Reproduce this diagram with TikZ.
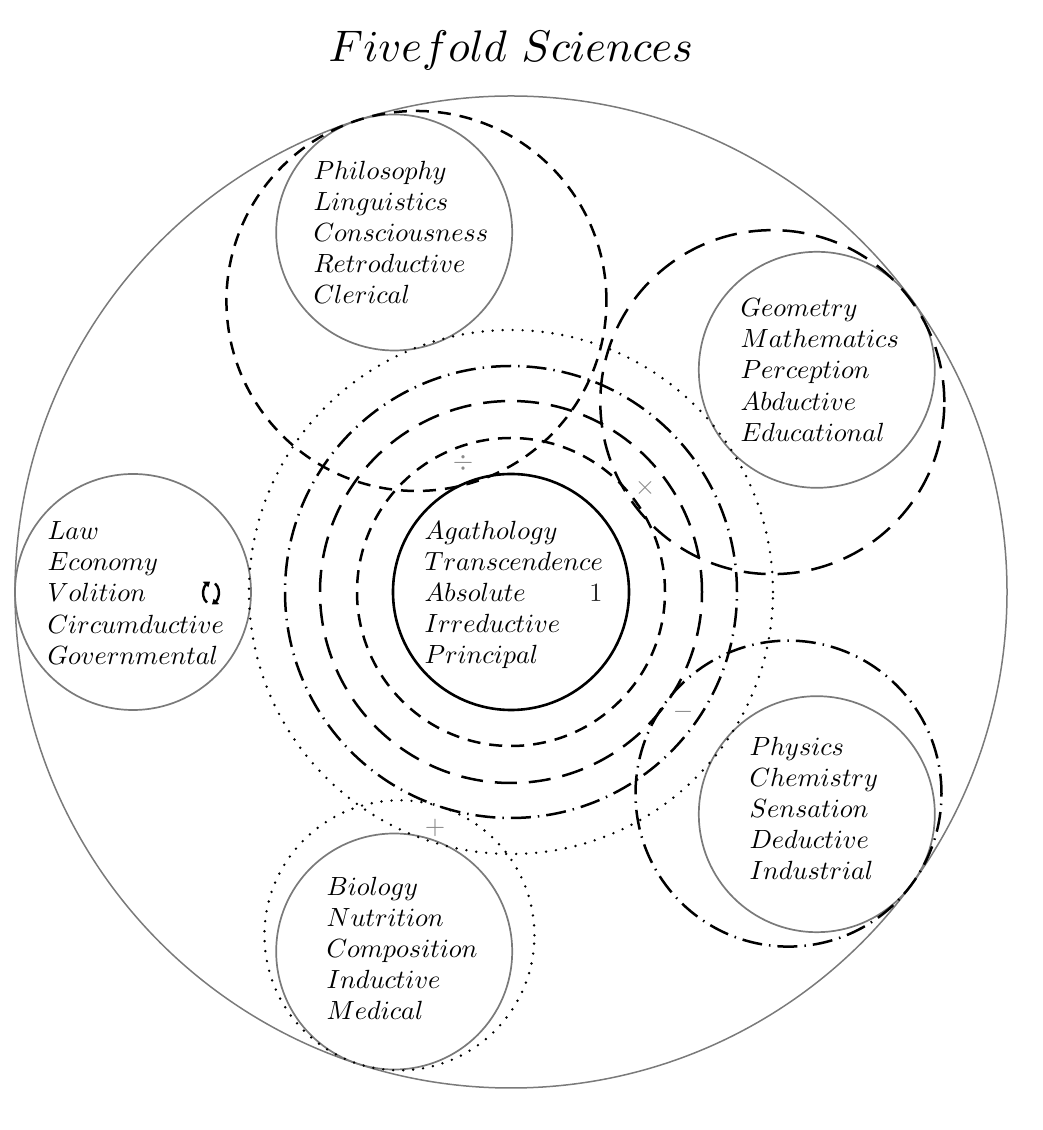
\documentclass[tikz,border=0pt]{standalone}
\usetikzlibrary{calc,arrows.meta,bending}
\definecolor{satgray}{HTML}{7A7A7A}
\definecolor{symgray}{HTML}{8A8A8A}
\newcommand\lbfont{\fontsize{10}{11.8}\selectfont}
\tikzset{
  x=1pt, y=1pt,
  satcircle/.style={draw=satgray, line width=1.7pt},
  outercircle/.style={draw=satgray, line width=1.5pt},
  corecircle/.style={draw=black, line width=2.6pt},
  shortdash/.style={draw=black, line width=2.5pt, dash pattern=on 13pt off 9pt},
  longdash/.style={draw=black, line width=2.5pt, dash pattern=on 22pt off 12pt},
  dashdotline/.style={draw=black, line width=2.5pt, dash pattern=on 20pt off 7pt on 1.5pt off 7pt},
  dotline/.style={draw=black, line width=2.7pt, line cap=round, dash pattern=on 0pt off 10pt},
  lbl/.style={align=left, font=\lbfont, inner sep=0pt, anchor=west, scale=2.63},
  sym/.style={font=\lbfont, text=symgray, inner sep=0pt, scale=2.63},
  rotarrow/.style={line width=2.4pt, -{Triangle[length=5.5pt,width=7.5pt,bend]}},
}
\begin{document}
\begin{tikzpicture}
\useasboundingbox (0,0) rectangle (1042,1130);
\coordinate (O) at (511,538);
% outer circle
\draw[outercircle] (O) circle[radius=496pt];
% satellite centres
\coordinate (phil) at ($(O)+(108:378pt)$);
\coordinate (geom) at ($(O)+(36:378pt)$);
\coordinate (phys) at ($(O)+(-36:378pt)$);
\coordinate (bio)  at ($(O)+(-108:378pt)$);
\coordinate (law)  at ($(O)+(180:378pt)$);
\draw[satcircle] (phil) circle[radius=118pt];
\draw[satcircle] (geom) circle[radius=118pt];
\draw[satcircle] (phys) circle[radius=118pt];
\draw[satcircle] (bio)  circle[radius=118pt];
\draw[satcircle] (law)  circle[radius=118pt];
% satellite companion circles
\coordinate (philc) at ($(O)+(108:306pt)$);
\coordinate (geomc) at ($(O)+(36:323pt)$);
\coordinate (physc) at ($(O)+(-36:343pt)$);
\coordinate (bioc)  at ($(O)+(-108:361pt)$);
\draw[shortdash] (philc) circle[radius=190pt];
\draw[longdash] (geomc) circle[radius=172pt];
\draw[dashdotline] (physc) circle[radius=153pt];
\draw[dotline] (bioc) circle[radius=135pt];
% concentric circles
\draw[corecircle] (O) circle[radius=118pt];
\draw[shortdash] (O) circle[radius=154pt];
\draw[longdash] (O) circle[radius=191pt];
\draw[dashdotline] (O) circle[radius=226pt];
\draw[dotline] (O) circle[radius=262pt];
% title
\node[font=\lbfont, anchor=base, inner sep=0pt, scale=4.42] (title) at (511,1068) {$Fivefold\ Sciences$};
% labels
\node[lbl] (philt) at (313,898) {$Philosophy$\\$Linguistics$\\$Consciousness$\\$Retroductive$\\$Clerical$};
\node[lbl] (geomt) at (740,760) {$Geometry$\\$Mathematics$\\$Perception$\\$Abductive$\\$Educational$};
\node[lbl] (lawt) at (47,537) {$Law$\\$Economy$\\$Volition$\\$Circumductive$\\$Governmental$};
\node[lbl] (agat) at (424,535) {$Agathology$\\$Transcendence$\\$Absolute$\\$Irreductive$\\$Principal$};
\node[lbl] (physt) at (749,322) {$Physics$\\$Chemistry$\\$Sensation$\\$Deductive$\\$Industrial$};
\node[lbl] (biot) at (326,182) {$Biology$\\$Nutrition$\\$Composition$\\$Inductive$\\$Medical$};
% symbols
\node[font=\lbfont, inner sep=0pt, text=black!85, scale=2.63] (one) at (596,537) {$1$};
\node[sym] (div) at (463,667) {$\div$};
\node[sym] (times) at (645,642) {$\times$};
\node[sym] (minus) at (683,418) {$-$};
\node[sym] (plus) at (435,302) {$+$};
% rotation symbol
\coordinate (rot) at (211,537);
\draw[rotarrow] ($(rot)+({8*cos(240)},{11*sin(240)})$) arc[start angle=240, end angle=95, x radius=8pt, y radius=11pt];
\draw[rotarrow] ($(rot)+({8*cos(60)},{11*sin(60)})$) arc[start angle=60, end angle=-85, x radius=8pt, y radius=11pt];
\end{tikzpicture}
\end{document}
